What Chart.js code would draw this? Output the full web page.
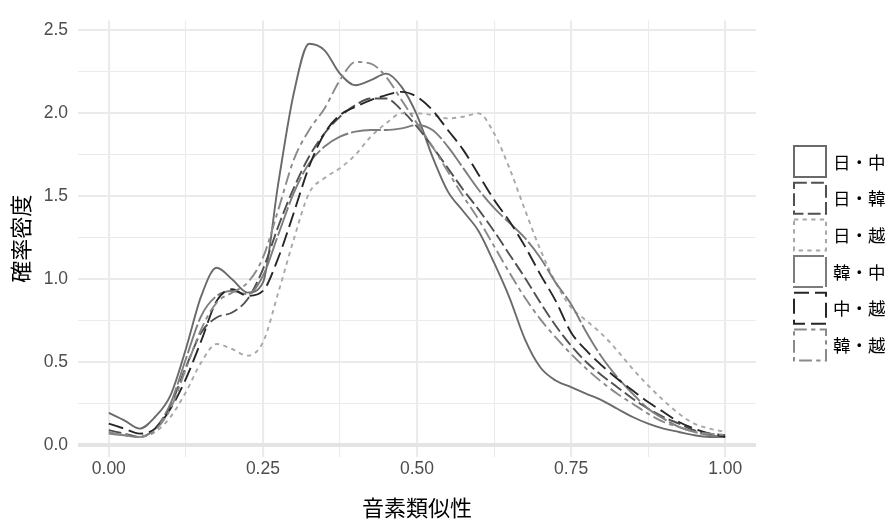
<!DOCTYPE html>
<html lang="ja">
<head>
<meta charset="UTF-8">
<title>音素類似性の確率密度</title>
<script src="https://cdn.jsdelivr.net/npm/chart.js"></script>
<style>
  html, body { margin: 0; padding: 0; background: #fff; }
  #wrap { width: 888px; height: 520px; }
</style>
</head>
<body>
<div id="wrap"><canvas id="densityChart" width="888" height="520"></canvas></div>
<script>
const xs = [0, 0.025, 0.05, 0.075, 0.1, 0.125, 0.15, 0.175, 0.2, 0.225,
            0.25, 0.275, 0.3, 0.325, 0.35, 0.375, 0.4, 0.425, 0.45, 0.475,
            0.5, 0.525, 0.55, 0.575, 0.6, 0.625, 0.65, 0.675, 0.7, 0.725,
            0.75, 0.775, 0.8, 0.825, 0.85, 0.875, 0.9, 0.925, 0.95, 0.975, 1.0];

const pairLabels = ['日・中', '日・韓', '日・越', '韓・中', '中・越', '韓・越'];

// 確率密度 per language pair
const jaZh = [0.195, 0.15, 0.10, 0.17, 0.30, 0.58, 0.90, 1.07, 1.00, 0.92,
              0.98, 1.58, 2.12, 2.42, 2.38, 2.24, 2.17, 2.20, 2.24, 2.16,
              1.99, 1.74, 1.53, 1.41, 1.29, 1.10, 0.89, 0.64, 0.47, 0.39,
              0.35, 0.31, 0.27, 0.22, 0.17, 0.13, 0.10, 0.08, 0.06, 0.05, 0.05];
const jaKo = [0.09, 0.07, 0.05, 0.10, 0.24, 0.47, 0.68, 0.77, 0.80, 0.88,
              1.06, 1.32, 1.55, 1.74, 1.88, 1.98, 2.05, 2.09, 2.09, 2.02,
              1.92, 1.80, 1.67, 1.54, 1.42, 1.29, 1.15, 1.01, 0.86, 0.72,
              0.60, 0.50, 0.42, 0.35, 0.28, 0.22, 0.17, 0.13, 0.09, 0.07, 0.06];
const jaVi = [0.08, 0.06, 0.05, 0.08, 0.17, 0.32, 0.50, 0.61, 0.58, 0.54,
              0.62, 0.92, 1.24, 1.52, 1.61, 1.67, 1.75, 1.86, 1.94, 2.00,
              2.00, 1.99, 1.97, 1.98, 2.00, 1.88, 1.67, 1.42, 1.18, 0.98,
              0.83, 0.75, 0.67, 0.57, 0.46, 0.36, 0.27, 0.19, 0.13, 0.10, 0.08];
const koZh = [0.07, 0.06, 0.05, 0.10, 0.25, 0.52, 0.78, 0.90, 0.93, 0.91,
              1.02, 1.27, 1.52, 1.70, 1.80, 1.86, 1.89, 1.90, 1.90, 1.91,
              1.93, 1.90, 1.80, 1.67, 1.54, 1.43, 1.34, 1.25, 1.13, 0.98,
              0.85, 0.68, 0.53, 0.41, 0.31, 0.22, 0.16, 0.11, 0.08, 0.06, 0.05];
const zhVi = [0.13, 0.10, 0.07, 0.10, 0.22, 0.40, 0.63, 0.87, 0.94, 0.90,
              0.93, 1.13, 1.40, 1.68, 1.88, 1.99, 2.04, 2.08, 2.11, 2.13,
              2.10, 2.02, 1.90, 1.78, 1.63, 1.48, 1.35, 1.20, 1.03, 0.87,
              0.68, 0.57, 0.48, 0.40, 0.33, 0.26, 0.20, 0.14, 0.10, 0.07, 0.05];
const koVi = [0.08, 0.06, 0.05, 0.09, 0.22, 0.46, 0.70, 0.86, 0.92, 0.98,
              1.13, 1.42, 1.72, 1.90, 2.03, 2.20, 2.31, 2.30, 2.22, 2.08,
              1.94, 1.80, 1.65, 1.50, 1.36, 1.20, 1.04, 0.89, 0.76, 0.65,
              0.55, 0.46, 0.38, 0.31, 0.25, 0.19, 0.14, 0.11, 0.08, 0.07, 0.06];

const xTicks = [0, 0.125, 0.25, 0.375, 0.5, 0.625, 0.75, 0.875, 1.0];
const yTicks = [0, 0.25, 0.5, 0.75, 1.0, 1.25, 1.5, 1.75, 2.0, 2.25, 2.5];

const seriesList = [jaZh, jaKo, jaVi, koZh, zhVi, koVi];
const lineColors = ['#6a6a6a', '#505050', '#a8a8a8', '#7c7c7c', '#262626', '#8a8a8a'];
const lineDashes = [[], [12.8, 4.3], [4.3, 4.3], [30, 3], [15, 6], [12.8, 4.3, 4.3, 4.3]];

const tickFont = { family: '"Liberation Sans", "Noto Sans CJK JP", sans-serif', size: 17.5 };
const cjkFont = '"Noto Sans CJK JP", "Liberation Sans", sans-serif';

const isMajor = (v, step) => Math.abs(v / step - Math.round(v / step)) < 1e-6;

// ggplot-like legend: outlined key boxes drawn with each line's own dash
const keyLegend = {
  id: 'keyLegend',
  afterDraw(chart) {
    const ctx = chart.ctx;
    ctx.save();
    chart.data.datasets.forEach((ds, i) => {
      const top = 145 + i * 36.7;
      ctx.lineWidth = 2;
      ctx.strokeStyle = ds.borderColor;
      ctx.setLineDash(ds.borderDash);
      ctx.strokeRect(794, top + 1, 32, 31);
      ctx.setLineDash([]);
      ctx.fillStyle = '#000';
      ctx.font = '17.5px ' + cjkFont;
      ctx.textBaseline = 'middle';
      ctx.textAlign = 'left';
      ctx.fillText(ds.label, 833, top + 17);
    });
    ctx.restore();
  }
};

const datasets = pairLabels.map((label, i) => ({
  label: label,
  data: xs.map((x, j) => ({ x: x, y: seriesList[i][j] })),
  borderColor: lineColors[i],
  borderDash: lineDashes[i],
  borderWidth: 1.9,
  fill: false,
  pointRadius: 0,
  cubicInterpolationMode: 'monotone',
  order: pairLabels.length - i
}));

new Chart(document.getElementById('densityChart'), {
  type: 'line',
  data: { datasets: datasets },
  plugins: [keyLegend],
  options: {
    responsive: false,
    animation: false,
    devicePixelRatio: 1,
    layout: { padding: { top: 13, right: 132, bottom: 0, left: 0 } },
    plugins: { legend: { display: false }, tooltip: { enabled: false } },
    scales: {
      x: {
        type: 'linear',
        min: -0.05,
        max: 1.05,
        afterBuildTicks: s => { s.ticks = xTicks.map(v => ({ value: v })); },
        afterFit: s => { s.height = 63; },
        border: { display: false },
        grid: {
          drawTicks: false,
          color: '#ebebeb',
          lineWidth: c => isMajor(c.tick.value, 0.25) ? 2.1 : 1.05
        },
        ticks: {
          autoSkip: false,
          maxRotation: 0,
          padding: 2,
          color: '#4d4d4d',
          font: tickFont,
          callback: v => isMajor(v, 0.25) ? v.toFixed(2) : ''
        },
        title: {
          display: true,
          text: '音素類似性',
          color: '#000',
          font: { family: cjkFont, size: 22, lineHeight: 1 },
          padding: { top: 0, bottom: 1 }
        }
      },
      y: {
        type: 'linear',
        min: -0.071,
        max: 2.56,
        afterBuildTicks: s => { s.ticks = yTicks.map(v => ({ value: v })); },
        afterFit: s => { s.width = 78; },
        border: { display: false },
        grid: {
          drawTicks: false,
          color: c => c.tick.value === 0 ? '#e4e4e4' : '#ebebeb',
          lineWidth: c => c.tick.value === 0 ? 4 : (isMajor(c.tick.value, 0.5) ? 2.1 : 1.05)
        },
        ticks: {
          autoSkip: false,
          padding: 10,
          color: '#4d4d4d',
          font: tickFont,
          callback: v => isMajor(v, 0.5) ? v.toFixed(1) : ''
        },
        title: {
          display: true,
          text: '確率密度',
          color: '#000',
          font: { family: cjkFont, size: 22, lineHeight: 1 },
          padding: { top: 10, bottom: 0 }
        }
      }
    }
  }
});
</script>
</body>
</html>
